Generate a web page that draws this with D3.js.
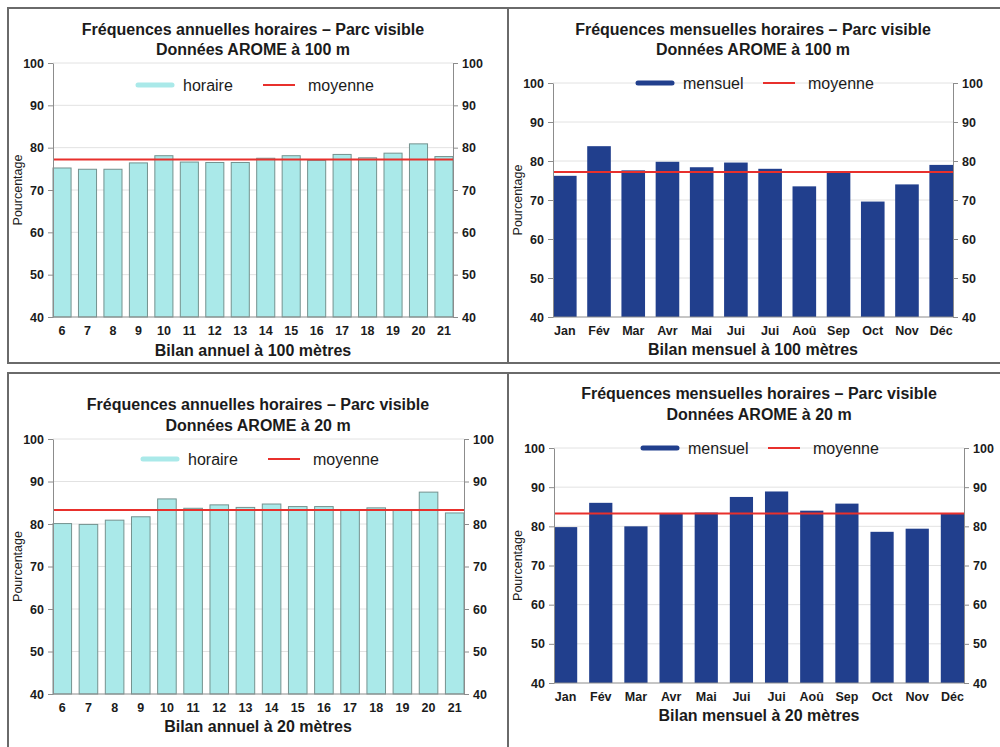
<!DOCTYPE html>
<html>
<head>
<meta charset="utf-8">
<script src="https://cdn.jsdelivr.net/npm/d3@7/dist/d3.min.js"></script>
<style>
  body { margin: 0; background: #fff; }
  text { font-family: "Liberation Sans", Arial, sans-serif; fill: #1b1b1b; }
</style>
</head>
<body>
<svg id="chart" width="1000" height="747"></svg>
<script>
// categories
const hours = ['6', '7', '8', '9', '10', '11', '12', '13', '14', '15', '16', '17', '18', '19', '20', '21'];
const months = ['Jan', 'Fév', 'Mar', 'Avr', 'Mai', 'Jui', 'Jui', 'Aoû', 'Sep', 'Oct', 'Nov', 'Déc'];
const yTicks = [40, 50, 60, 70, 80, 90, 100];

// series values
const annual100 = [75.2, 74.9, 74.9, 76.4, 78.1, 76.6, 76.5, 76.5, 77.5, 78.1, 77.0, 78.4, 77.6, 78.7, 80.9, 77.9];
const mean100 = 77.2;
const monthly100 = [76.2, 83.8, 77.6, 79.8, 78.4, 79.6, 78.0, 73.5, 77.2, 69.6, 74.0, 79.0];
const annual20 = [80.1, 79.9, 80.9, 81.7, 85.9, 83.7, 84.5, 83.9, 84.7, 84.1, 84.1, 83.3, 83.8, 83.3, 87.5, 82.6];
const mean20 = 83.3;
const monthly20 = [79.8, 86.0, 80.0, 83.2, 83.5, 87.5, 88.9, 84.0, 85.8, 78.6, 79.4, 83.2];

const svg = d3.select('#chart');
svg.append('rect').attr('width', 1000).attr('height', 747).attr('fill', '#fff');

const CYAN = '#aae9e9', NAVY = '#213f8d', RED = '#e8302c';

const panels = [
    {
        frame: [8, 8, 500, 355], left: 53, right: 453, top: 63, bottom: 317, pad: 0.29,
        titles: ['Fréquences annuelles horaires \u2013 Parc visible', 'Données AROME à 100 m'],
        titleX: 253, titleY: [29, 49], legendX: 138, legendY: 85, xTitleY: 350, yLabelX: 18,
        labels: hours, values: annual100, mean: mean100, kind: 'horaire',
        xTitle: 'Bilan annuel à 100 mètres'
    },
    {
        frame: [508, 8, 520, 355], left: 553, right: 953, top: 83, bottom: 317, pad: 0.31,
        titles: ['Fréquences mensuelles horaires \u2013 Parc visible', 'Données AROME à 100 m'],
        titleX: 753, titleY: [29, 49], legendX: 638, legendY: 83, xTitleY: 349, yLabelX: 518,
        labels: months, values: monthly100, mean: mean100, kind: 'mensuel',
        xTitle: 'Bilan mensuel à 100 mètres'
    },
    {
        frame: [8, 373, 500, 400], left: 53, right: 464, top: 439, bottom: 694, pad: 0.29,
        titles: ['Fréquences annuelles horaires \u2013 Parc visible', 'Données AROME à 20 m'],
        titleX: 258, titleY: [404, 425], legendX: 143, legendY: 459, xTitleY: 726, yLabelX: 18,
        labels: hours, values: annual20, mean: mean20, kind: 'horaire',
        xTitle: 'Bilan annuel à 20 mètres'
    },
    {
        frame: [508, 373, 520, 400], left: 554, right: 964, top: 448, bottom: 683, pad: 0.34,
        titles: ['Fréquences mensuelles horaires \u2013 Parc visible', 'Données AROME à 20 m'],
        titleX: 759, titleY: [393, 414], legendX: 643, legendY: 448, xTitleY: 715, yLabelX: 518,
        labels: months, values: monthly20, mean: mean20, kind: 'mensuel',
        xTitle: 'Bilan mensuel à 20 mètres'
    }
];

panels.forEach(p => drawPanel(p));

function drawPanel(p) {
    const g = svg.append('g');
    const [fx, fy, fw, fh] = p.frame;

    // panel frame
    g.append('rect')
        .attr('x', fx).attr('y', fy).attr('width', fw).attr('height', fh)
        .attr('fill', 'none').attr('stroke', '#6a6a6a').attr('stroke-width', 2);

    const y = d3.scaleLinear().domain([40, 100]).range([p.bottom, p.top]);
    const x = d3.scaleBand()
        .domain(d3.range(p.values.length))
        .range([p.left, p.right])
        .paddingInner(p.pad)
        .paddingOuter(0);

    // grid
    g.selectAll('.grid')
        .data(yTicks.filter(t => t > 40))
        .enter().append('line')
        .attr('x1', p.left).attr('x2', p.right)
        .attr('y1', d => y(d)).attr('y2', d => y(d))
        .attr('stroke', '#e2e2e2').attr('stroke-width', 1);

    // bars
    const horaire = p.kind === 'horaire';
    g.selectAll('.bar')
        .data(p.values)
        .enter().append('rect')
        .attr('x', (d, i) => x(i))
        .attr('y', d => y(d))
        .attr('width', x.bandwidth())
        .attr('height', d => y(40) - y(d))
        .attr('fill', horaire ? CYAN : NAVY)
        .attr('stroke', horaire ? '#74928f' : 'none')
        .attr('stroke-width', 1);

    // mean line
    g.append('line')
        .attr('x1', p.left).attr('x2', p.right)
        .attr('y1', y(p.mean)).attr('y2', y(p.mean))
        .attr('stroke', RED).attr('stroke-width', 2);

    // axes
    const styleAxis = sel => {
        sel.select('.domain').attr('stroke', '#8c8c8c');
        sel.selectAll('.tick line').attr('stroke', '#8c8c8c');
        sel.selectAll('.tick text')
            .attr('fill', '#1b1b1b')
            .style('font-size', '12.5px')
            .style('font-weight', 'bold');
    };
    g.append('g')
        .attr('transform', `translate(${p.left},0)`)
        .call(d3.axisLeft(y).tickValues(yTicks).tickSize(5).tickSizeOuter(0).tickPadding(4))
        .call(styleAxis);
    g.append('g')
        .attr('transform', `translate(${p.right},0)`)
        .call(d3.axisRight(y).tickValues(yTicks).tickSize(5).tickSizeOuter(0).tickPadding(4))
        .call(styleAxis);
    g.append('g')
        .attr('transform', `translate(0,${p.bottom})`)
        .call(d3.axisBottom(x).tickSize(0).tickPadding(9).tickFormat(i => p.labels[i]))
        .call(styleAxis)
        .call(a => a.select('.domain').attr('d', `M${p.left},0H${p.right}`));

    // titles
    p.titles.forEach((t, i) => {
        g.append('text')
            .attr('x', p.titleX).attr('y', p.titleY[i])
            .attr('dy', '0.35em')
            .attr('text-anchor', 'middle')
            .style('font-size', '16px').style('font-weight', 'bold')
            .text(t);
    });

    // x title
    g.append('text')
        .attr('x', p.titleX).attr('y', p.xTitleY)
        .attr('dy', '0.35em')
        .attr('text-anchor', 'middle')
        .style('font-size', '16px').style('font-weight', 'bold')
        .text(p.xTitle);

    // y title
    const yc = (p.top + p.bottom) / 2;
    g.append('text')
        .attr('transform', `translate(${p.yLabelX},${yc}) rotate(-90)`)
        .attr('dy', '0.35em')
        .attr('text-anchor', 'middle')
        .style('font-size', '12.5px')
        .text('Pourcentage');

    // legend
    const lx = p.legendX, ly = p.legendY;
    g.append('line')
        .attr('x1', lx).attr('x2', lx + 34)
        .attr('y1', ly).attr('y2', ly)
        .attr('stroke', horaire ? CYAN : NAVY)
        .attr('stroke-width', 5)
        .attr('stroke-linecap', 'round');
    g.append('text')
        .attr('x', lx + 45).attr('y', ly).attr('dy', '0.35em')
        .style('font-size', '16px')
        .text(p.kind);
    g.append('line')
        .attr('x1', lx + 125).attr('x2', lx + 157)
        .attr('y1', ly).attr('y2', ly)
        .attr('stroke', RED).attr('stroke-width', 2);
    g.append('text')
        .attr('x', lx + 170).attr('y', ly).attr('dy', '0.35em')
        .style('font-size', '16px')
        .text('moyenne');
}
</script>
</body>
</html>
